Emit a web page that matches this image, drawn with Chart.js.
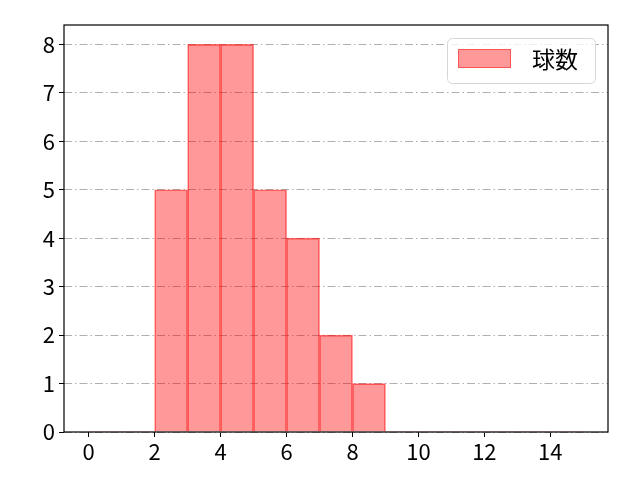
<!DOCTYPE html>
<html><head><meta charset="utf-8">
<script src="https://cdn.jsdelivr.net/npm/chart.js@4"></script>
<style>html,body{margin:0;padding:0;background:#fff}#wrap{width:640px;height:480px}</style>
</head><body><div id="wrap"><canvas id="c" width="640" height="480"></canvas></div>
<script>
const binStarts = [0,1,2,3,4,5,6,7,8,9,10,11,12,13,14];
const counts = [0,0,5,8,8,5,4,2,1,0,0,0,0,0,0];
const xTicks = [0,2,4,6,8,10,12,14];
const yTicks = [0,1,2,3,4,5,6,7,8];
const seriesLabel = '球数';
const FONT = '"Noto Sans CJK JP", "DejaVu Sans", sans-serif';

const points = binStarts.map((b,i)=>({x:b+0.5, y:counts[i]}));

const frame = {
  id:'frame',
  afterDatasetsDraw(chart){
    const {ctx, chartArea:a} = chart;
    ctx.save();
    ctx.strokeStyle='#000'; ctx.lineWidth=1.2;
    ctx.strokeRect(a.left, a.top, a.right-a.left, a.bottom-a.top);
    // legend
    const bx=447.5, by=38.5, bw=148, bh=45, r=5;
    ctx.fillStyle='rgba(255,255,255,0.8)';
    ctx.strokeStyle='#d6d6d6'; ctx.lineWidth=1;
    ctx.beginPath();
    ctx.roundRect(bx,by,bw,bh,r);
    ctx.fill(); ctx.stroke();
    ctx.fillStyle='rgba(255,0,0,0.4)';
    ctx.fillRect(458,49,53,19);
    ctx.strokeStyle='rgba(255,0,0,0.45)';
    ctx.strokeRect(458.5,49.5,52,18);
    ctx.fillStyle='#000';
    ctx.font='23px '+FONT;
    ctx.textBaseline='middle';
    ctx.fillText(chart.data.datasets[0].label, 532, 59);
    ctx.restore();
  }
};

new Chart(document.getElementById('c'),{
  type:'bar',
  data:{datasets:[{
    label:seriesLabel,
    data:points,
    backgroundColor:'rgba(255,0,0,0.4)',
    borderColor:'rgba(255,0,0,0.55)',
    borderWidth:(c)=> (c.raw && c.raw.y===0) ? 0 : 1,
    barPercentage:1,
    categoryPercentage:1,
    grouped:false
  }]},
  options:{
    responsive:false,
    animation:false,
    events:[],
    layout:{padding:{top:25,right:32,left:0,bottom:0}},
    plugins:{legend:{display:false},tooltip:{enabled:false}},
    scales:{
      x:{
        type:'linear', min:-0.75, max:15.75, offset:false,
        afterBuildTicks(s){ s.ticks = xTicks.map(v=>({value:v})); },
        afterFit(s){ s.height = 48; },
        grid:{offset:false, drawOnChartArea:false, drawTicks:true, tickLength:5, tickColor:'#000', tickWidth:1},
        border:{display:false},
        ticks:{color:'#000', font:{family:FONT,size:22}, padding:1, maxRotation:0, autoSkip:false}
      },
      y:{
        min:0, max:8.4,
        afterBuildTicks(s){ s.ticks = yTicks.map(v=>({value:v})); },
        afterFit(s){ s.width = 64; },
        grid:{color:'#b0b0b0', lineWidth:1, tickBorderDash:[], tickColor:'#000', tickLength:5, drawTicks:true},
        border:{display:false, dash:[8,3,1.5,3]},
        ticks:{color:'#000', font:{family:FONT,size:22}, padding:4, autoSkip:false}
      }
    }
  },
  plugins:[frame]
});
</script>
</body></html>
